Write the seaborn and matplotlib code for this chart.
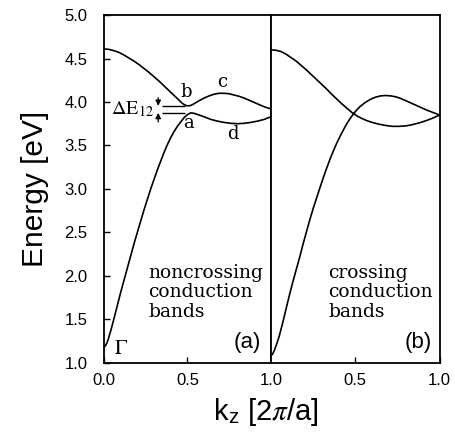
import matplotlib
matplotlib.use("Agg")
import matplotlib.pyplot as plt
import seaborn as sns

# band structure, k_z in units of 2pi/a, energy in eV
# (a) noncrossing conduction bands
k_a_upper = [0.00, 0.03, 0.06, 0.09, 0.12, 0.15, 0.18, 0.21, 0.24, 0.27, 0.30, 0.33, 0.36,
             0.39, 0.42, 0.44, 0.46, 0.48, 0.50, 0.52, 0.54, 0.57, 0.60, 0.63, 0.66, 0.69,
             0.72, 0.75, 0.78, 0.81, 0.84, 0.87, 0.90, 0.93, 0.96, 1.00]
e_a_upper = [4.61, 4.605, 4.59, 4.57, 4.54, 4.505, 4.47, 4.43, 4.385, 4.34, 4.29, 4.24, 4.185,
             4.13, 4.075, 4.04, 4.00, 3.97, 3.955, 3.96, 3.98, 4.015, 4.045, 4.07, 4.09, 4.10,
             4.10, 4.095, 4.08, 4.065, 4.045, 4.02, 3.995, 3.97, 3.945, 3.92]
k_a_lower = [0.00, 0.01, 0.02, 0.03, 0.045, 0.06, 0.08, 0.10, 0.12, 0.14, 0.16, 0.18, 0.20,
             0.22, 0.24, 0.26, 0.28, 0.30, 0.32, 0.34, 0.36, 0.38, 0.40, 0.42, 0.44, 0.46,
             0.48, 0.50, 0.52, 0.54, 0.57, 0.60, 0.64, 0.68, 0.72, 0.76, 0.80, 0.84, 0.88,
             0.92, 0.96, 1.00]
e_a_lower = [1.18, 1.20, 1.24, 1.30, 1.40, 1.51, 1.66, 1.81, 1.95, 2.09, 2.23, 2.37, 2.50,
             2.63, 2.76, 2.88, 3.00, 3.11, 3.22, 3.32, 3.42, 3.51, 3.59, 3.66, 3.72, 3.77,
             3.82, 3.855, 3.875, 3.87, 3.85, 3.83, 3.80, 3.78, 3.765, 3.755, 3.75, 3.755, 3.765,
             3.78, 3.80, 3.83]

# (b) crossing conduction bands
k_b_upper = [0.00, 0.03, 0.06, 0.09, 0.12, 0.15, 0.18, 0.21, 0.24, 0.27, 0.30, 0.33, 0.36,
             0.39, 0.42, 0.45, 0.48, 0.51, 0.54, 0.57, 0.60, 0.64, 0.68, 0.72, 0.76, 0.80,
             0.84, 0.88, 0.92, 0.96, 1.00]
e_b_upper = [4.60, 4.595, 4.58, 4.55, 4.51, 4.47, 4.42, 4.37, 4.315, 4.26, 4.205, 4.15, 4.09,
             4.035, 3.98, 3.93, 3.88, 3.84, 3.81, 3.785, 3.765, 3.745, 3.73, 3.72, 3.72, 3.725,
             3.74, 3.76, 3.785, 3.815, 3.85]
k_b_lower = [0.00, 0.01, 0.02, 0.035, 0.05, 0.07, 0.09, 0.11, 0.13, 0.15, 0.17, 0.19, 0.21,
             0.23, 0.25, 0.27, 0.29, 0.31, 0.33, 0.35, 0.37, 0.39, 0.41, 0.43, 0.45, 0.47,
             0.49, 0.51, 0.53, 0.56, 0.59, 0.62, 0.65, 0.68, 0.71, 0.74, 0.77, 0.80, 0.84,
             0.88, 0.92, 0.96, 1.00]
e_b_lower = [1.08, 1.10, 1.14, 1.22, 1.31, 1.46, 1.62, 1.78, 1.93, 2.07, 2.21, 2.36, 2.50,
             2.64, 2.77, 2.89, 3.01, 3.125, 3.235, 3.34, 3.435, 3.525, 3.605, 3.68, 3.75, 3.81,
             3.865, 3.91, 3.95, 3.995, 4.03, 4.055, 4.07, 4.075, 4.07, 4.06, 4.04, 4.015, 3.98,
             3.945, 3.91, 3.88, 3.85]

y_ticks = [1.0, 1.5, 2.0, 2.5, 3.0, 3.5, 4.0, 4.5, 5.0]
gap_levels = [3.955, 3.875]

sns.set_theme(style="ticks")
plt.rcParams["font.family"] = ["Liberation Sans", "DejaVu Sans"]
plt.rcParams["mathtext.fontset"] = "stix"
plt.rcParams["text.color"] = "black"
plt.rcParams["axes.labelcolor"] = "black"
SERIF = ["DejaVu Serif"]

fig = plt.figure(figsize=(4.56, 4.42), dpi=100)
ax1 = fig.add_axes([0.228, 0.179, 0.366, 0.787])
ax2 = fig.add_axes([0.594, 0.179, 0.370, 0.787])

for ax, (ku, eu, kl, el) in zip(
        [ax1, ax2],
        [(k_a_upper, e_a_upper, k_a_lower, e_a_lower),
         (k_b_upper, e_b_upper, k_b_lower, e_b_lower)]):
    sns.lineplot(x=ku, y=eu, ax=ax, color="black", lw=1.2, sort=False, estimator=None)
    sns.lineplot(x=kl, y=el, ax=ax, color="black", lw=1.2, sort=False, estimator=None)
    ax.set_xlim(0, 1)
    ax.set_ylim(1.0, 5.0)
    for s in ax.spines.values():
        s.set_linewidth(1.3)
        s.set_color("black")
    ax.tick_params(direction="in", length=4, width=1, colors="black",
                   labelcolor="black", labelsize=12, pad=7)

ax1.set_yticks(y_ticks)
ax1.set_yticklabels([f"{v:.1f}" for v in y_ticks])
ax1.tick_params(axis="y", pad=12)
ax1.set_xticks([0.0, 0.5, 1.0])
ax1.set_xticklabels(["0.0", "0.5", "1.0"])
ax2.set_yticks([])
ax2.set_xticks([0.5, 1.0])
ax2.set_xticklabels(["0.5", "1.0"])

ax1.set_ylabel("Energy [eV]", fontsize=21.5)
ax1.yaxis.set_label_coords(-0.33, 0.5)
fig.text(266 / 456, 0.068, r"k$_{\mathregular{z}}$ [2$\pi$/a]", fontsize=21,
         ha="center", va="center")

# gap annotation in panel (a)
ax1.hlines(gap_levels, 0.35, 0.485, color="black", lw=1.0)
ax1.annotate("", xy=(0.325, gap_levels[0]), xytext=(0.325, 4.05),
             arrowprops=dict(arrowstyle="-|>", color="black", lw=0.9,
                             mutation_scale=8, shrinkA=0, shrinkB=0))
ax1.annotate("", xy=(0.325, gap_levels[1]), xytext=(0.325, 3.77),
             arrowprops=dict(arrowstyle="-|>", color="black", lw=0.9,
                             mutation_scale=8, shrinkA=0, shrinkB=0))
ax1.text(0.045, 3.92, r"$\Delta\mathrm{E}_{12}$", fontsize=14.5, ha="left", va="center")

for lbl, kx, ey in [("b", 0.495, 4.12), ("a", 0.505, 3.76), ("c", 0.71, 4.23), ("d", 0.77, 3.63)]:
    ax1.text(kx, ey, lbl, fontsize=13, family=SERIF, ha="center", va="center")
ax1.text(0.10, 1.16, r"$\Gamma$", fontsize=15, ha="center", va="center")

ax1.text(0.265, 1.81, "noncrossing\nconduction\nbands", fontsize=13.5, family=SERIF,
         ha="left", va="center", linespacing=1.1)
ax2.text(0.34, 1.81, "crossing\nconduction\nbands", fontsize=13.5, family=SERIF,
         ha="left", va="center", linespacing=1.1)

ax1.text(0.86, 1.23, "(a)", fontsize=16, ha="center", va="center")
ax2.text(0.875, 1.23, "(b)", fontsize=16, ha="center", va="center")

fig.savefig("out.png", dpi=100)
